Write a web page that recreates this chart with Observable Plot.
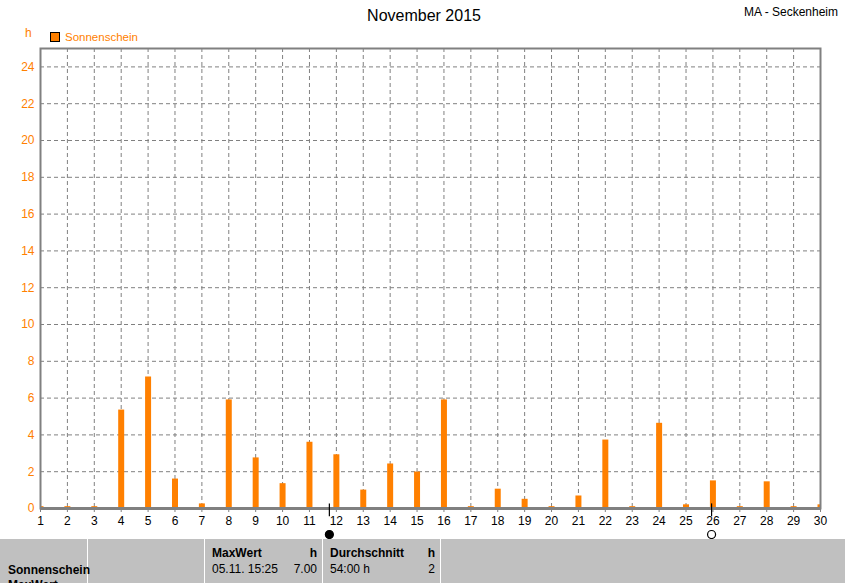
<!DOCTYPE html>
<html>
<head>
<meta charset="utf-8">
<script src="https://cdn.jsdelivr.net/npm/d3@7"></script>
<script src="https://cdn.jsdelivr.net/npm/@observablehq/plot@0.6"></script>
<style>
  html, body { margin: 0; padding: 0; background: #fff; }
  body { width: 845px; height: 583px; position: relative; overflow: hidden; font-family: "Liberation Sans", Arial, sans-serif; }
  #chart { position: absolute; left: 0; top: 0; }
  .abs { position: absolute; white-space: nowrap; }
  #title { left: 0; width: 848px; text-align: center; top: 7px; font-size: 16px; color: #000; }
  #station { right: 7px; top: 5px; font-size: 12px; color: #000; }
  #unit { left: 25px; top: 26px; font-size: 12px; color: #ff8000; }
  #legend { left: 50px; top: 31px; font-size: 11.5px; color: #ff8000; display: flex; align-items: center; }
  #legend .sw { width: 8px; height: 8px; background: #ff8000; border: 1px solid #000; margin-right: 5px; }
  #table { position: absolute; left: 0; top: 539px; width: 845px; height: 44px; background: #c0c0c0; overflow: hidden; font-size: 12px; color: #000; }
  .vl { position: absolute; top: 0; width: 1px; height: 44px; background: #fff; }
  .b { font-weight: bold; }
</style>
</head>
<body>
<div id="chart"></div>
<div class="abs" id="title">November 2015</div>
<div class="abs" id="station">MA - Seckenheim</div>
<div class="abs" id="unit">h</div>
<div class="abs" id="legend"><span class="sw"></span><span>Sonnenschein</span></div>
<div id="table"></div>
<script>
// ---- data ----
const days = d3.range(1, 31);
const sunshine = [0.1, 0.1, 0.1, 5.35, 7.15, 1.6, 0.25, 5.9, 2.75, 1.35,
                  3.6, 2.92, 1.0, 2.42, 1.98, 5.9, 0.1, 1.05, 0.5, 0.1,
                  0.68, 3.72, 0.1, 4.63, 0.2, 1.5, 0.1, 1.45, 0.1, 0.2];
const yTicks = d3.range(0, 25, 2);
const moonTimes = [11.74, 25.95];
const moonKinds = ["new", "full"];

const tableHeaders = ["MaxWert", "h", "Durchschnitt", "h"];
const tableRowLabels = ["Sonnenschein", "MaxWert"];
const tableValues = ["05.11.  15:25", "7.00", "54:00 h", "2"];

const orange = "#ff8000";
const gray = "#808080";

const data = days.map((d, i) => ({day: d, h: sunshine[i]}));
const moons = moonTimes.map((t, i) => ({t, kind: moonKinds[i]}));

const chart = Plot.plot({
  width: 845,
  height: 539,
  marginLeft: 40,
  marginRight: 25,
  marginTop: 48,
  marginBottom: 31,
  style: {fontFamily: "'Liberation Sans', Arial, sans-serif", fontSize: "12px", background: "transparent"},
  x: {domain: [1, 30]},
  y: {domain: [0, 25]},
  marks: [
    Plot.gridX(days, {stroke: gray, strokeOpacity: 1, strokeDasharray: "4,3"}),
    Plot.gridY(yTicks, {stroke: gray, strokeOpacity: 1, strokeDasharray: "4,3"}),
    Plot.ruleX(data, {x: "day", y1: 0, y2: "h", stroke: orange, strokeWidth: 6, clip: true}),
    Plot.frame({stroke: gray, strokeWidth: 2}),
    Plot.ruleY([0], {stroke: gray, strokeWidth: 3}),
    Plot.axisY({ticks: yTicks, tickSize: 0, tickPadding: 6, color: orange, fontSize: 12, label: null}),
    Plot.axisX({ticks: days, tickSize: 4, tickPadding: 4, stroke: gray, fill: "#000", fontSize: 12, label: null, tickFormat: d => d}),
    Plot.ruleX(moons, {x: "t", y1: 0.25, y2: -0.45, stroke: "#000", strokeWidth: 1.2}),
    Plot.dot(moons, {x: "t", frameAnchor: "bottom", dy: 26, r: 4, fill: d => d.kind === "new" ? "#000" : "#fff", stroke: "#000", strokeWidth: 1.2})
  ]
});
document.getElementById("chart").appendChild(chart);

// ---- table ----
const tbl = document.getElementById("table");
function add(html, style, cls) {
  const el = document.createElement("div");
  el.className = "abs " + (cls || "");
  el.textContent = html;
  Object.assign(el.style, style);
  tbl.appendChild(el);
}
[87, 204, 322, 440].forEach(x => {
  const v = document.createElement("div");
  v.className = "vl";
  v.style.left = x + "px";
  tbl.appendChild(v);
});
add(tableRowLabels[0], {left: "8px", top: "24px"}, "b");
add(tableRowLabels[1], {left: "8px", top: "39px"}, "b");
add(tableHeaders[0], {left: "212px", top: "7px"}, "b");
add(tableHeaders[1], {right: (845 - 317) + "px", top: "7px"}, "b");
add(tableValues[0], {left: "212px", top: "23px"});
add(tableValues[1], {right: (845 - 317) + "px", top: "23px"});
add(tableHeaders[2], {left: "330px", top: "7px"}, "b");
add(tableHeaders[3], {right: (845 - 435) + "px", top: "7px"}, "b");
add(tableValues[2], {left: "330px", top: "23px"});
add(tableValues[3], {right: (845 - 435) + "px", top: "23px"});
</script>
</body>
</html>
